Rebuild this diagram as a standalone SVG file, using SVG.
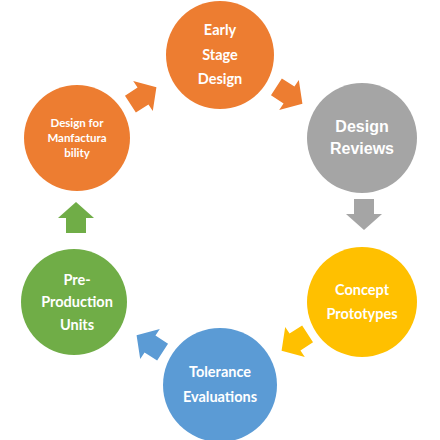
<svg xmlns="http://www.w3.org/2000/svg" width="440" height="440" viewBox="0 0 440 440">
<defs>
<style>
.t{font-family:Lato,"Open Sans","Liberation Sans",sans-serif;font-weight:bold;fill:#fff;text-anchor:middle;font-size:14.5px}
.a{font-family:"Liberation Sans",Arial,sans-serif;font-weight:bold;fill:#fff;text-anchor:middle;font-size:16px}
.s{font-size:11.5px}
</style>
<path id="arr" d="M-15,-10 H0 V-18 L16,0 L0,18 V10 H-15 Z"/>
</defs>
<rect width="440" height="440" fill="#fff"/>
<g id="connectors">
<use href="#arr" fill="#ED7D31" transform="translate(289,95) rotate(33)"/>
<use href="#arr" fill="#A5A5A5" transform="translate(364,214) rotate(90)"/>
<use href="#arr" fill="#FFC000" transform="translate(295,342) rotate(147)"/>
<use href="#arr" fill="#5B9BD5" transform="translate(150,344) rotate(213)"/>
<use href="#arr" fill="#70AD47" transform="translate(76,218) rotate(-90)"/>
<use href="#arr" fill="#ED7D31" transform="translate(143,96) rotate(-33)"/>
</g>
<g id="early">
<circle cx="220" cy="55" r="54" fill="#ED7D31"/>
<text class="t" x="220" y="35">Early</text>
<text class="t" x="220" y="60">Stage</text>
<text class="t" x="220" y="84">Design</text>
</g>
<g id="reviews">
<circle cx="362" cy="138" r="55" fill="#A5A5A5"/>
<text class="a" x="362" y="132">Design</text>
<text class="a" x="362" y="154">Reviews</text>
</g>
<g id="concept">
<circle cx="362" cy="302" r="55" fill="#FFC000"/>
<text class="t" x="362" y="295">Concept</text>
<text class="t" x="362" y="319">Prototypes</text>
</g>
<g id="tolerance">
<circle cx="220" cy="385" r="57" fill="#5B9BD5"/>
<text class="t" x="220" y="377">Tolerance</text>
<text class="t" x="220" y="402">Evaluations</text>
</g>
<g id="preprod">
<circle cx="74" cy="302" r="53" fill="#70AD47"/>
<text class="t" x="77" y="285">Pre-</text>
<text class="t" x="77" y="307">Production</text>
<text class="t" x="77" y="330">Units</text>
</g>
<g id="dfm">
<circle cx="77" cy="138" r="53" fill="#ED7D31"/>
<text class="t s" x="77" y="127">Design for</text>
<text class="t s" x="77" y="142">Manfactura</text>
<text class="t s" x="77" y="157">bility</text>
</g>
</svg>
